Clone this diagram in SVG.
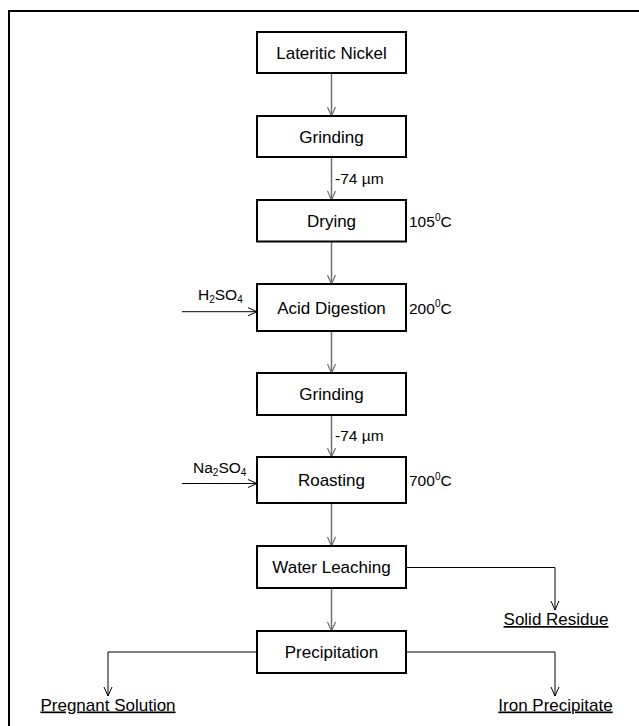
<svg xmlns="http://www.w3.org/2000/svg" width="639" height="726" viewBox="0 0 639 726">
<style>
text{font-family:"Liberation Sans",Arial,sans-serif;fill:#000}
.node rect{fill:#fff;stroke:#000;stroke-width:2}
.node text{font-size:17px;text-anchor:middle}
.lbl{font-size:15.5px}
.out{font-size:17px;text-anchor:middle;text-decoration:underline;text-decoration-thickness:2px}
.v{stroke:#6e6e6e;stroke-width:1.5;fill:none;marker-end:url(#ahg)}
.h{stroke:#000;stroke-width:1;fill:none;marker-end:url(#ah)}
</style>
<defs>
<marker id="ah" markerUnits="userSpaceOnUse" markerWidth="12" markerHeight="12" viewBox="-10 -6 12 12" refX="0" refY="0" orient="auto"><path d="M-9,-4 L0,0 L-9,4" fill="none" stroke="#000" stroke-width="1"/></marker>
<marker id="ahg" markerUnits="userSpaceOnUse" markerWidth="12" markerHeight="12" viewBox="-10 -6 12 12" refX="0" refY="0" orient="auto"><path d="M-9,-4 L0,0 L-9,4" fill="none" stroke="#6e6e6e" stroke-width="1.2"/></marker>
</defs>
<rect width="639" height="726" fill="#fff"/>
<path d="M9,726 V11 H639" fill="none" stroke="#000" stroke-width="2"/>
<g id="connectors">
<path class="v" d="M331.5,73 V116"/>
<path class="v" d="M331.5,157 V200"/>
<path class="v" d="M331.5,241.5 V284"/>
<path class="v" d="M331.5,331 V373"/>
<path class="v" d="M331.5,415 V457"/>
<path class="v" d="M331.5,503 V546"/>
<path class="v" d="M331.5,588 V631"/>
<path class="h" d="M182,311.7 H257"/>
<path class="h" d="M182,483.5 H257"/>
<path class="h" d="M406,567.5 H555 V610"/>
<path class="h" d="M406,652 H555 V696"/>
<path class="h" d="M257,652 H108 V696"/>
</g>
<g id="n1" class="node"><rect x="257" y="32" width="149" height="41"/><text x="331.5" y="58.5">Lateritic Nickel</text></g>
<g id="n2" class="node"><rect x="257" y="116" width="149" height="41"/><text x="331.5" y="142.5">Grinding</text></g>
<g id="n3" class="node"><rect x="257" y="200" width="149" height="41.5"/><text x="331.5" y="227">Drying</text></g>
<g id="n4" class="node"><rect x="257" y="284" width="149" height="47"/><text x="331.5" y="313.5">Acid Digestion</text></g>
<g id="n5" class="node"><rect x="257" y="373" width="149" height="42"/><text x="331.5" y="400">Grinding</text></g>
<g id="n6" class="node"><rect x="257" y="457" width="149" height="46"/><text x="331.5" y="486">Roasting</text></g>
<g id="n7" class="node"><rect x="257" y="546" width="149" height="42"/><text x="331.5" y="573">Water Leaching</text></g>
<g id="n8" class="node"><rect x="257" y="631" width="149" height="42"/><text x="331.5" y="658">Precipitation</text></g>
<g id="labels">
<text class="lbl" x="335" y="184">-74 µm</text>
<text class="lbl" x="335" y="440.5">-74 µm</text>
<text class="lbl" x="409" y="227">105<tspan font-size="10" dy="-6.5">0</tspan><tspan dy="6.5">C</tspan></text>
<text class="lbl" x="409" y="313.5">200<tspan font-size="10" dy="-6.5">0</tspan><tspan dy="6.5">C</tspan></text>
<text class="lbl" x="409" y="486">700<tspan font-size="10" dy="-6.5">0</tspan><tspan dy="6.5">C</tspan></text>
<text class="lbl" x="198" y="300">H<tspan font-size="10" dy="3">2</tspan><tspan dy="-3">SO</tspan><tspan font-size="10" dy="3">4</tspan></text>
<text class="lbl" x="193" y="473">Na<tspan font-size="10" dy="3">2</tspan><tspan dy="-3">SO</tspan><tspan font-size="10" dy="3">4</tspan></text>
</g>
<g id="outputs">
<text class="out" x="556" y="625">Solid Residue</text>
<text class="out" x="108" y="710.5">Pregnant Solution</text>
<text class="out" x="555.5" y="710.5">Iron Precipitate</text>
</g>
</svg>
